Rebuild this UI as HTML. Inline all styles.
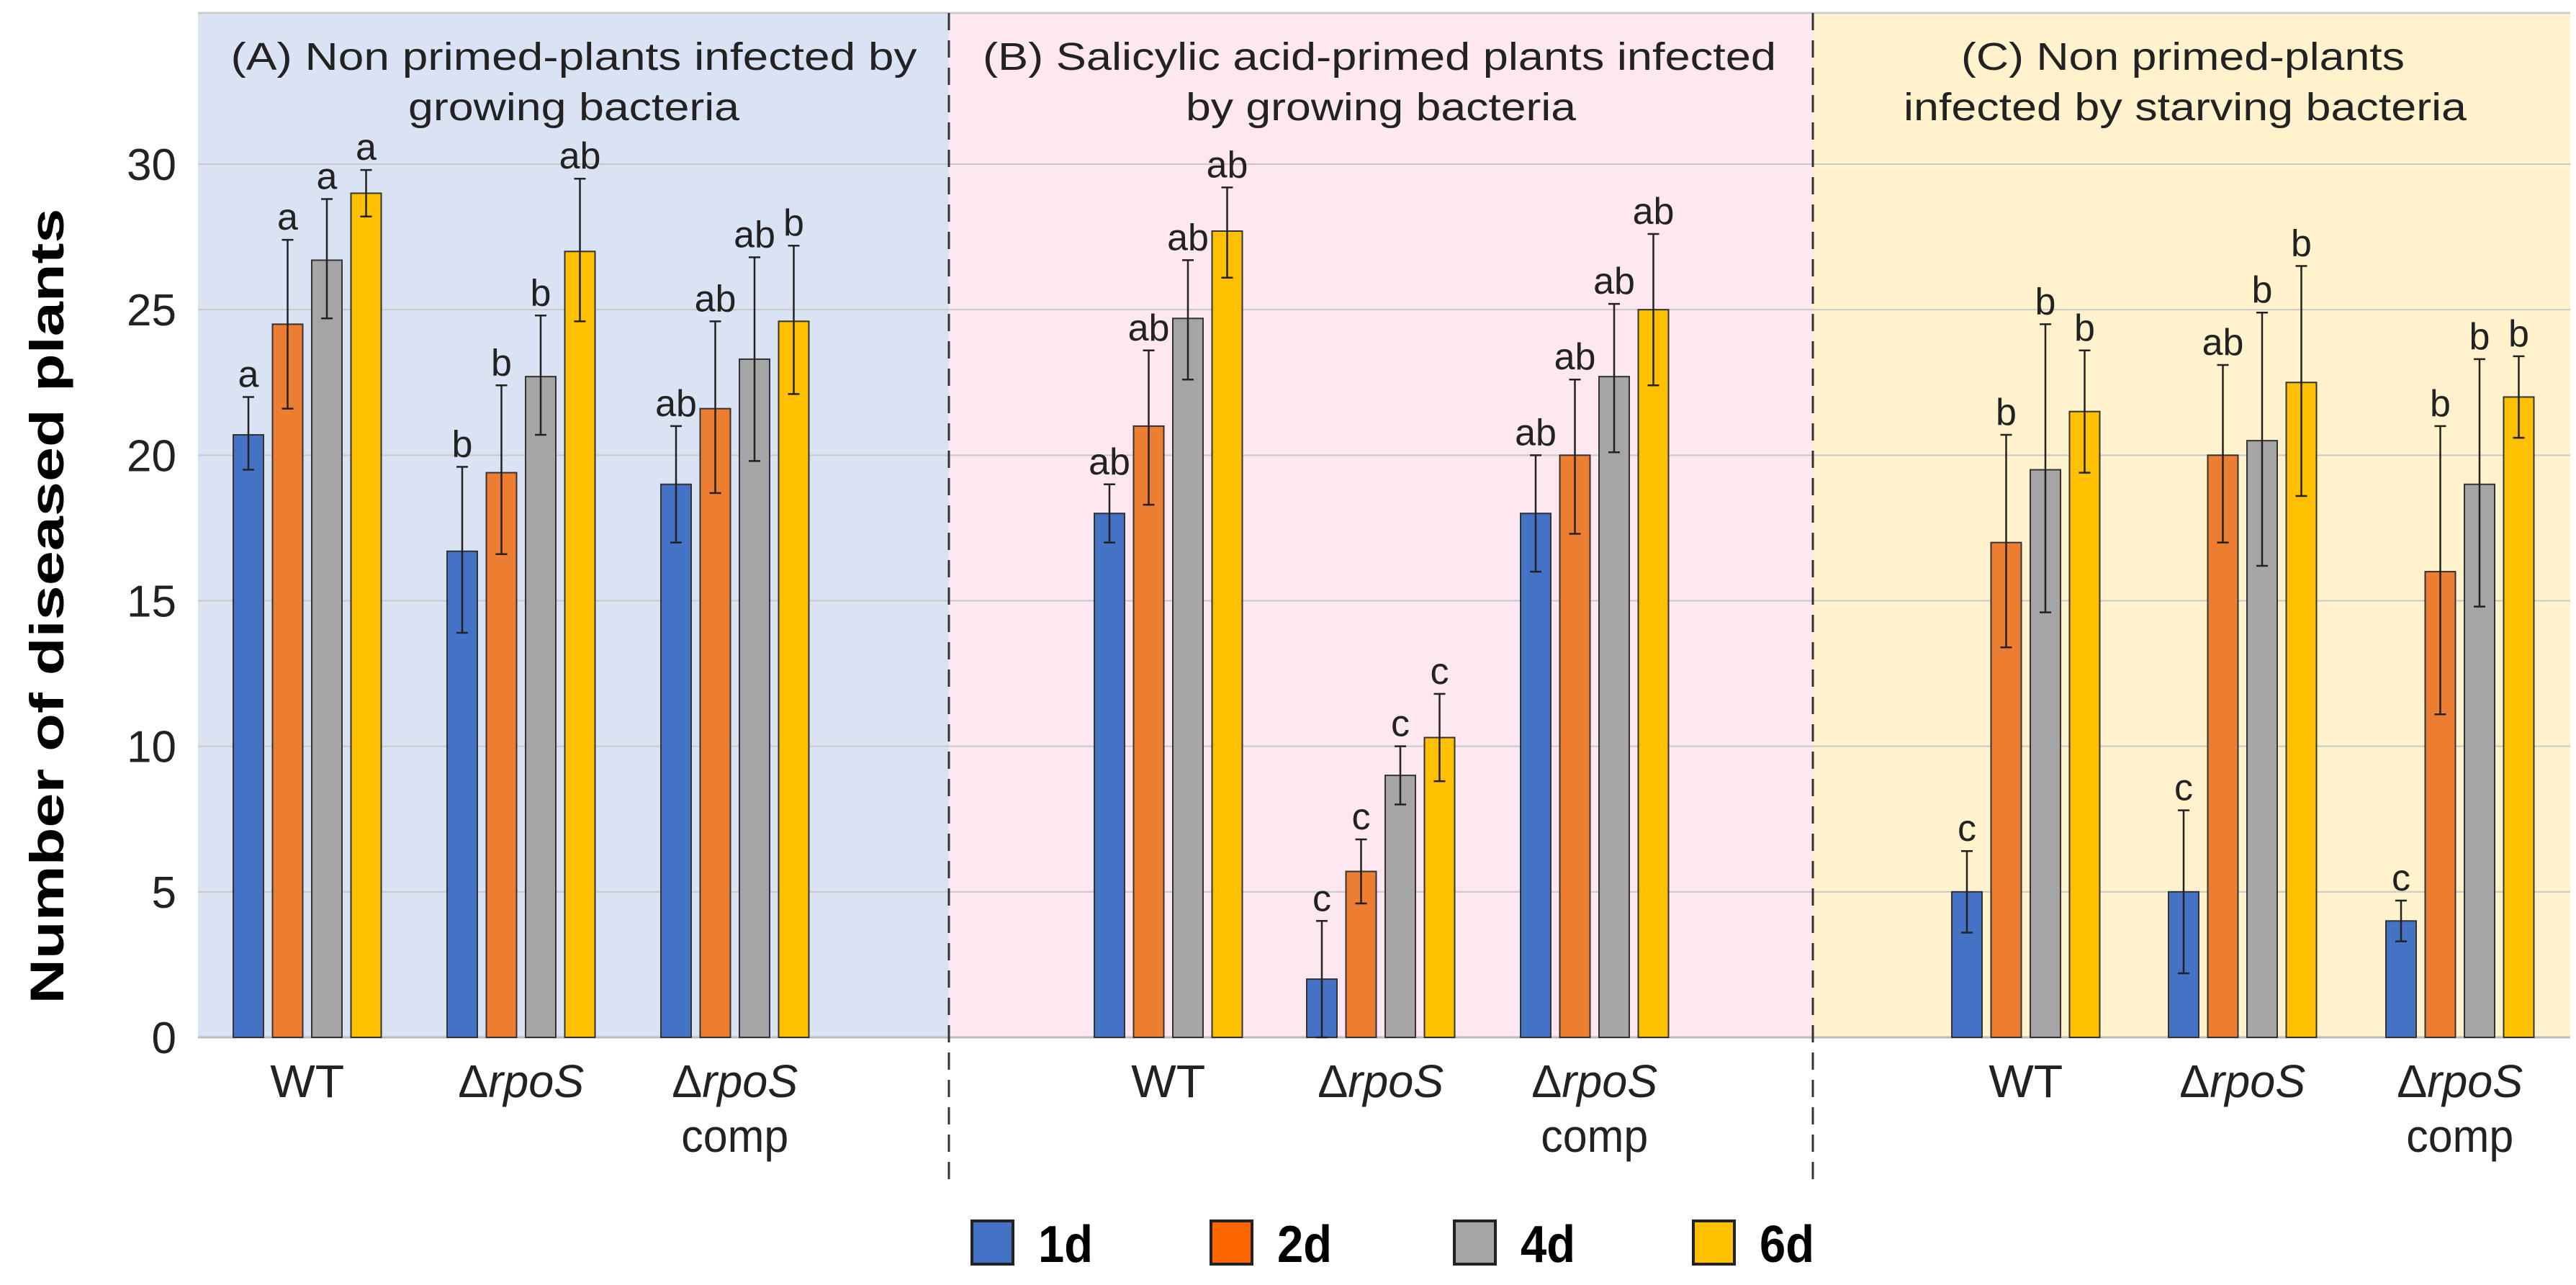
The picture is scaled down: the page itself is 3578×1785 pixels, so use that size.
<!DOCTYPE html>
<html><head><meta charset="utf-8"><style>
html,body{margin:0;padding:0;background:#fff;}
svg{display:block;font-family:"Liberation Sans",Arial,sans-serif;}
</style></head><body>
<svg id="chart" width="3578" height="1785" viewBox="0 0 3578 1785" xmlns="http://www.w3.org/2000/svg">
<rect x="275" y="18" width="1043" height="1423" fill="#DAE3F3"/>
<rect x="1318" y="18" width="1200" height="1423" fill="#FDE7F0"/>
<rect x="2518" y="18" width="1052" height="1423" fill="#FFF2CC"/>
<line x1="275" y1="18" x2="3570" y2="18" stroke="#ccc" stroke-width="3"/>
<g id="grid"></g>
<g id="bars"></g>
<line x1="1318" y1="18" x2="1318" y2="1640" stroke="#333" stroke-width="3" stroke-dasharray="24,14"/>
<line x1="2518" y1="18" x2="2518" y2="1640" stroke="#333" stroke-width="3" stroke-dasharray="24,14"/>
<g font-size="54" fill="#222" text-anchor="middle">
<text x="797" y="97" textLength="953" lengthAdjust="spacingAndGlyphs">(A) Non primed-plants  infected by</text>
<text x="797" y="167" textLength="460" lengthAdjust="spacingAndGlyphs">growing  bacteria</text>
<text x="1916" y="97" textLength="1102" lengthAdjust="spacingAndGlyphs">(B) Salicylic acid-primed plants infected</text>
<text x="1918" y="167" textLength="542" lengthAdjust="spacingAndGlyphs">by growing bacteria</text>
<text x="3032" y="97" textLength="616" lengthAdjust="spacingAndGlyphs">(C) Non primed-plants</text>
<text x="3035" y="167" textLength="782" lengthAdjust="spacingAndGlyphs">infected by starving bacteria</text>
</g>
<text transform="translate(88,842) rotate(-90)" font-size="66" font-weight="bold" text-anchor="middle" fill="#000" textLength="1105" lengthAdjust="spacingAndGlyphs">Number of diseased plants</text>
<g id="legend"></g>
</svg>
<script>
const panels = ['A','B','C'];
const groups = ['WT','rpoS','comp'];
const seriesNames = ['1d','2d','4d','6d'];
const colors = ['#4472C4','#ED7D31','#A5A5A5','#FFC000'];
const yTicks = [0,5,10,15,20,25,30];
const d1 = [20.7,16.7,19, 18,2,18, 5,5,4];
const d2 = [24.5,19.4,21.6, 21,5.7,20, 17,20,16];
const d4 = [26.7,22.7,23.3, 24.7,9,22.7, 19.5,20.5,19];
const d6 = [29,27,24.6, 27.7,10.3,25, 21.5,22.5,22];
const lo1 = [19.5,13.9,17, 17,0,16, 3.6,2.2,3.3];
const hi1 = [22,19.6,21, 19,4,20, 6.4,7.8,4.7];
const lo2 = [21.6,16.6,18.7, 18.3,4.6,17.3, 13.4,17,11.1];
const hi2 = [27.4,22.4,24.6, 23.6,6.8,22.6, 20.7,23.1,21];
const lo4 = [24.7,20.7,19.8, 22.6,8,20.1, 14.6,16.2,14.8];
const hi4 = [28.8,24.8,26.8, 26.7,10,25.2, 24.5,24.9,23.3];
const lo6 = [28.2,24.6,22.1, 26.1,8.8,22.4, 19.4,18.6,20.6];
const hi6 = [29.8,29.5,27.2, 29.2,11.8,27.6, 23.6,26.5,23.4];
const let1 = ['a','b','ab','ab','c','ab','c','c','c'];
const let2 = ['a','b','ab','ab','c','ab','b','ab','b'];
const let4 = ['a','b','ab','ab','c','ab','b','b','b'];
const let6 = ['a','ab','b','ab','c','ab','b','b','b'];

const NS='http://www.w3.org/2000/svg';
const y0=1441, yTop=228;
function yScale(v){return y0-(v/30)*(y0-yTop);}
const groupStart=[324,621,918, 1520,1815,2112, 2711,3012,3314];
function xScale(gi,si){return groupStart[gi]+si*54.5;}
function mk(tag,attrs,parent){const e=document.createElementNS(NS,tag);for(const k in attrs)e.setAttribute(k,attrs[k]);parent.appendChild(e);return e;}
const grid=document.getElementById('grid');
yTicks.forEach(t=>{
  const y=yScale(t);
  if(t>0){const l=mk('line',{x1:275,x2:3570,y1:y,y2:y,stroke:'#c8c8c8','stroke-width':2},grid);
  
  }
  const tx=mk('text',{x:245,y:y+22,'font-size':62,'text-anchor':'end',fill:'#222'},grid);
  tx.textContent=t;
  
  
});
const ax=mk('line',{x1:275,x2:3570,y1:y0,y2:y0,stroke:'#bbb','stroke-width':3},grid);


const vals=[d1,d2,d4,d6], los=[lo1,lo2,lo4,lo6], his=[hi1,hi2,hi4,hi6], lets=[let1,let2,let4,let6];
const bars=document.getElementById('bars');
const W=42;
for(let g=0;g<9;g++){
  for(let s=0;s<4;s++){
    const x=xScale(g,s), v=vals[s][g], y=yScale(v);
    const r=mk('rect',{x:x,y:y,width:W,height:y0-y,fill:colors[s],stroke:'#333','stroke-width':2},bars);
    
    
    const cx=x+W/2, yl=yScale(los[s][g]), yh=yScale(his[s][g]);
    const eb=mk('path',{d:`M${cx},${yl}V${yh}M${cx-8},${yl}H${cx+8}M${cx-8},${yh}H${cx+8}`,stroke:'#222','stroke-width':2.5,fill:'none'},bars);
    
    
    const t=mk('text',{x:cx,y:yh-14,'font-size':52,'text-anchor':'middle',fill:'#222'},bars);
    t.textContent=lets[s][g];
    
    
  }
  const gc=xScale(g,0)+(54.5*3+W)/2;
  const k=g%3;
  const lab=mk('text',{x:gc,y:1524,'font-size':64,'text-anchor':'middle',fill:'#222'},bars);
  if(k===0){lab.textContent='WT';lab.setAttribute('textLength','103');}
  else{lab.innerHTML='Δ<tspan font-style="italic">rpoS</tspan>';lab.setAttribute('textLength','175');}
  lab.setAttribute('lengthAdjust','spacingAndGlyphs');
  
  
  if(k===2){const c=mk('text',{x:gc,y:1600,'font-size':64,'text-anchor':'middle',fill:'#222',textLength:'149',lengthAdjust:'spacingAndGlyphs'},bars);
  c.textContent='comp';
  
  }
}
const leg=document.getElementById('legend');
const legX=[1350,1682,2020,2352];
const legColors=['#4472C4','#FF6600','#A5A5A5','#FFC000'];
seriesNames.forEach((n,i)=>{
  const r=mk('rect',{x:legX[i],y:1696,width:57,height:60,fill:legColors[i],stroke:'#222','stroke-width':4},leg);
  
  
  const t=mk('text',{x:legX[i]+92,y:1753,'font-size':72,'font-weight':'bold',fill:'#000',textLength:'76',lengthAdjust:'spacingAndGlyphs'},leg);
  t.textContent=n;
  
  
});
</script>
</body></html>
